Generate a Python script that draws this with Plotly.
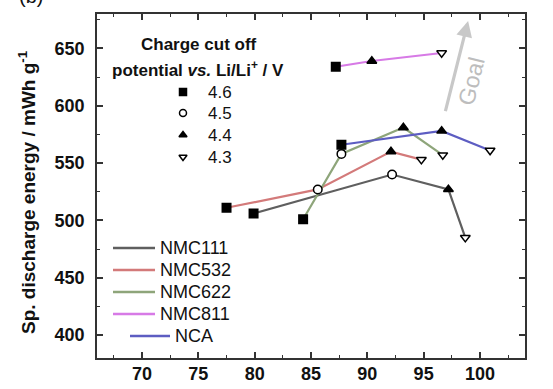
import plotly.graph_objects as go

# ---- data ----
materials = ["NMC111", "NMC532", "NMC622", "NMC811", "NCA"]
voltages = [4.6, 4.5, 4.4, 4.3]

nmc111_x = [79.9, 92.2, 97.2, 98.7]
nmc111_y = [506, 540, 527, 485]
nmc111_v = [4.6, 4.5, 4.4, 4.3]

nmc532_x = [77.5, 85.6, 92.1, 94.8]
nmc532_y = [511, 527, 560, 553]
nmc532_v = [4.6, 4.5, 4.4, 4.3]

nmc622_x = [84.3, 87.7, 93.2, 96.7]
nmc622_y = [501, 558, 581, 557]
nmc622_v = [4.6, 4.5, 4.4, 4.3]

nmc811_x = [87.2, 90.4, 96.6]
nmc811_y = [634, 639, 646]
nmc811_v = [4.6, 4.4, 4.3]

nca_x = [87.7, 96.6, 100.9]
nca_y = [566, 578, 561]
nca_v = [4.6, 4.4, 4.3]

x_ticks = [70, 75, 80, 85, 90, 95, 100]
y_ticks = [400, 450, 500, 550, 600, 650]

# ---- styles ----
FONT = "Liberation Sans, Arial, sans-serif"
W, H = 553, 389
# plot area in window pixels
L, R, T, B = 97, 525, 14, 358


def px_to_paper(px, py):
    return (px - L) / (R - L), (B - py) / (B - T)


line_colors = {
    "NMC111": "#5f5f5f",
    "NMC532": "#d37a7a",
    "NMC622": "#8ea57a",
    "NMC811": "#d77ae6",
    "NCA": "#5d5dc2",
}
sym = {4.6: "square", 4.5: "circle", 4.4: "triangle-up", 4.3: "triangle-down"}
fill = {4.6: "black", 4.5: "white", 4.4: "black", 4.3: "white"}

series = [
    ("NMC111", nmc111_x, nmc111_y, nmc111_v),
    ("NMC532", nmc532_x, nmc532_y, nmc532_v),
    ("NMC622", nmc622_x, nmc622_y, nmc622_v),
    ("NMC811", nmc811_x, nmc811_y, nmc811_v),
    ("NCA", nca_x, nca_y, nca_v),
]

fig = go.Figure()

for name, xs, ys, vs in series:
    fig.add_trace(go.Scatter(
        x=xs, y=ys, mode="lines", showlegend=False, hoverinfo="skip",
        line=dict(color=line_colors[name], width=2.2),
    ))

for name, xs, ys, vs in series:
    fig.add_trace(go.Scatter(
        x=xs, y=ys, mode="markers", showlegend=False, name=name,
        marker=dict(
            symbol=[sym[v] for v in vs], size=8.5,
            color=[fill[v] for v in vs],
            line=dict(color="black", width=1.5),
        ),
    ))

# ---- hand-placed legends on an invisible pixel-coordinate overlay axis ----
leg1_rows = [248, 270, 292, 314, 336]
leg1_line_x0 = [113, 113, 113, 113, 130]
leg1_line_x1 = [155, 155, 155, 155, 170]
leg1_text_x = [158, 158, 158, 158, 173]
for i, name in enumerate(materials):
    fig.add_trace(go.Scatter(
        x=[leg1_line_x0[i], leg1_line_x1[i]], y=[leg1_rows[i], leg1_rows[i]],
        xaxis="x2", yaxis="y2", mode="lines", showlegend=False, hoverinfo="skip",
        line=dict(color=line_colors[name], width=2.5),
    ))
    fig.add_annotation(x=leg1_text_x[i], y=leg1_rows[i], xref="x2", yref="y2",
                       text=name, showarrow=False, xanchor="left", yanchor="middle",
                       font=dict(family=FONT, size=18, color="#111111"))

leg2_rows = [92, 113, 135, 157]
for i, v in enumerate(voltages):
    fig.add_trace(go.Scatter(
        x=[183], y=[leg2_rows[i]], xaxis="x2", yaxis="y2", mode="markers",
        showlegend=False, hoverinfo="skip",
        marker=dict(symbol=sym[v], size=7, color=fill[v], line=dict(color="black", width=1.5)),
    ))
    fig.add_annotation(x=206, y=leg2_rows[i], xref="x2", yref="y2",
                       text=f"{v}", showarrow=False, xanchor="left", yanchor="middle",
                       font=dict(family=FONT, size=17, color="#111111"))

fig.add_annotation(x=199, y=44, xref="x2", yref="y2",
                   text="<b>Charge cut off</b>", showarrow=False, xanchor="center", yanchor="middle",
                   font=dict(family=FONT, size=17, color="#111111"))
fig.add_annotation(x=198, y=69, xref="x2", yref="y2",
                   text="<b>potential <i>vs.</i> Li/Li<sup>+</sup> / V</b>", showarrow=False,
                   xanchor="center", yanchor="middle",
                   font=dict(family=FONT, size=17, color="#111111"))

# y-axis title placed as rotated text (paper coordinates, left of the plot)
tx, ty = px_to_paper(27, 192)
fig.add_annotation(x=tx, y=ty, xref="paper", yref="paper",
                   text="<b>Sp. discharge energy / mWh g<sup>-1</sup></b>", showarrow=False,
                   textangle=-90, xanchor="center", yanchor="middle",
                   font=dict(family=FONT, size=19, color="#111111"))

axis_common = dict(
    showline=True, linecolor="#333333", linewidth=1.8, mirror="allticks",
    ticks="inside", ticklen=6, tickwidth=1.6, tickcolor="#333333",
    showgrid=False, zeroline=False, automargin=False,
    tickfont=dict(family=FONT, size=18, color="#111111", weight="bold"),
    minor=dict(ticks="inside", ticklen=3, tickwidth=1.4, tickcolor="#333333", showgrid=False),
)

fig.update_layout(
    xaxis=dict(range=[66, 104], tickvals=x_ticks, ticktext=[str(t) for t in x_ticks],
               minor_dtick=2.5, minor_tick0=67.5, ticklabelstandoff=-2, **axis_common),
    yaxis=dict(range=[380, 680], tickvals=y_ticks, ticktext=[str(t) for t in y_ticks],
               minor_dtick=25, minor_tick0=375, ticklabelstandoff=7, **axis_common),
    xaxis2=dict(range=[L, R], overlaying="x", visible=False, fixedrange=True),
    yaxis2=dict(range=[B, T], overlaying="y", visible=False, fixedrange=True),
)

# Goal arrow
fig.add_annotation(x=98.95, y=674, ax=96.9, ay=594, xref="x", yref="y", axref="x", ayref="y",
                   text="", showarrow=True, arrowhead=2, arrowsize=1.0, arrowwidth=3.2,
                   arrowcolor="#c8c8c8")
fig.add_annotation(x=99.2, y=622, xref="x", yref="y", text="Goal", showarrow=False,
                   textangle=-76, font=dict(family=FONT, size=23, color="#bdbdbd"))

# panel label (only its lower part shows at the top edge)
bx, by = px_to_paper(17, 9)
fig.add_annotation(xref="paper", yref="paper", x=bx, y=by,
                   text="(b)", showarrow=False, xanchor="left", yanchor="bottom",
                   font=dict(family=FONT, size=20, color="#111111"))

fig.update_layout(
    width=W, height=H,
    margin=dict(l=L, r=W - R, t=T, b=H - B),
    paper_bgcolor="white", plot_bgcolor="white",
    font=dict(family=FONT, color="#111111"),
    showlegend=False,
)

fig.write_html(
    "out.html",
    config={"displayModeBar": False},
    post_script="document.body.style.margin='0';document.body.style.overflow='hidden';",
)
